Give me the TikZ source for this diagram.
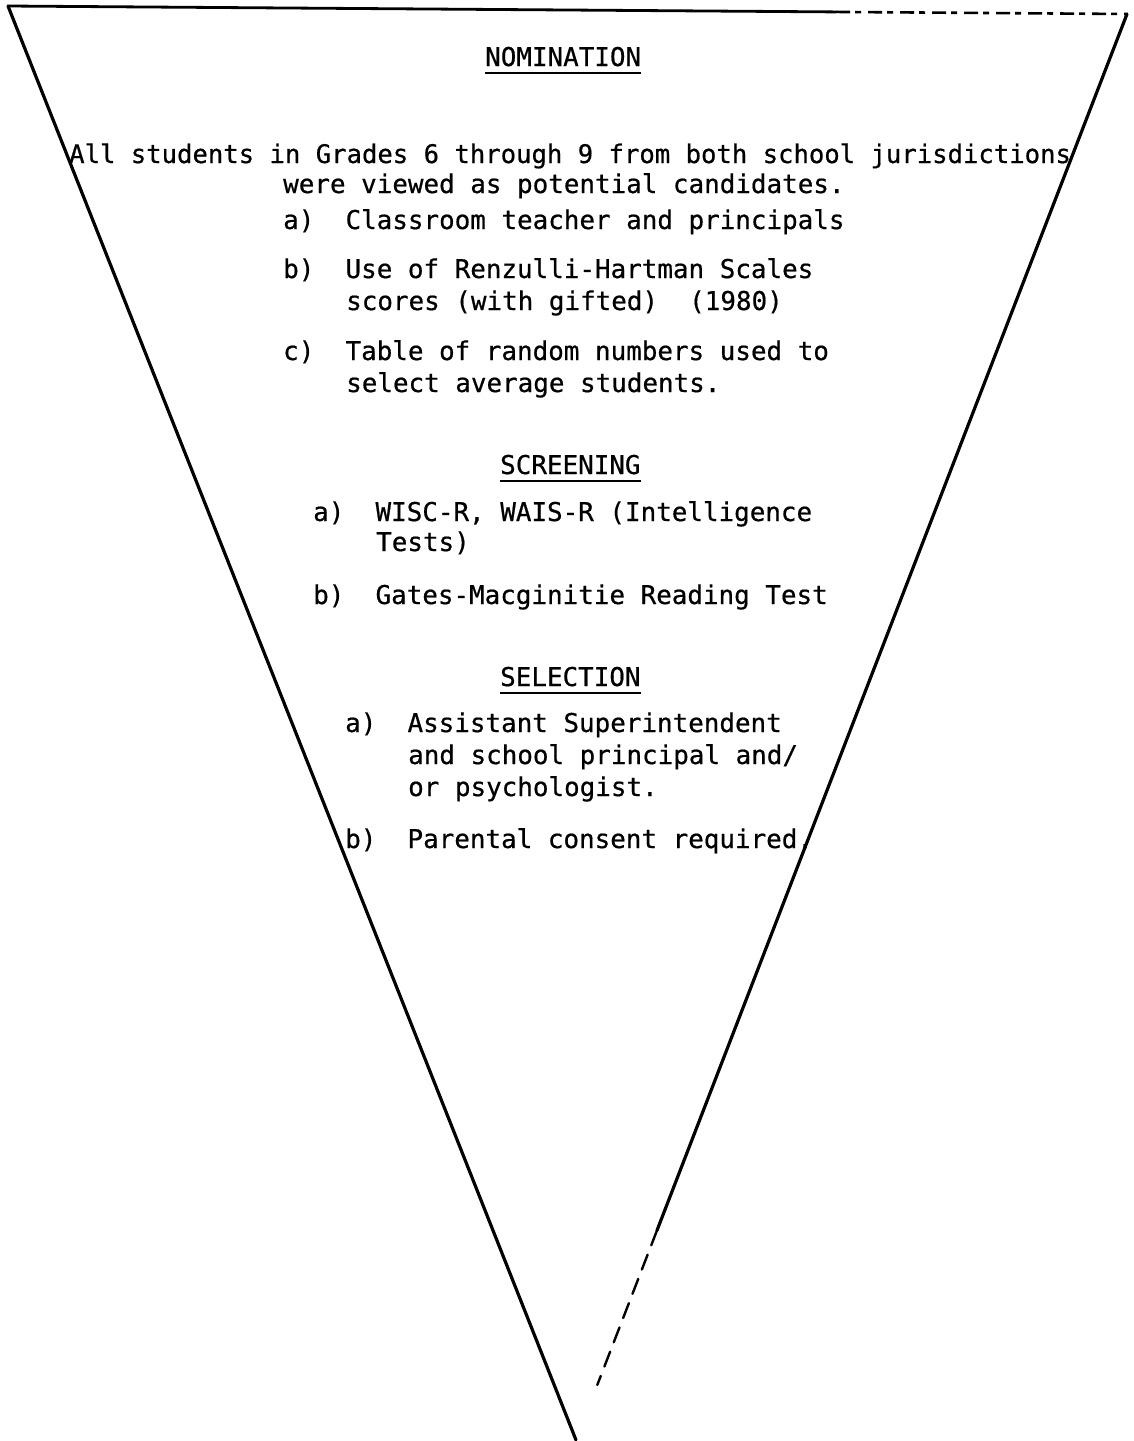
\documentclass[tikz,border=0pt]{standalone}
\usepackage{fontspec}
\setmonofont[FakeBold=0.6]{DejaVu Sans Mono}
\usetikzlibrary{calc}
\begin{document}
\begin{tikzpicture}[x=1pt,y=-1pt,
  txt/.style={anchor=base west,inner sep=0pt,font=\ttfamily\fontsize{25.9}{30}\selectfont},
  edge/.style={line width=3.2pt,line cap=round,line join=round},
  brk/.style={line width=2.6pt,dash pattern=on 14pt off 5pt on 6pt off 7pt},
  uline/.style={line width=2pt}]
\useasboundingbox (0,0) rectangle (1134,1441);
\frenchspacing
% triangle corners
\coordinate (TL) at (8,6);
\coordinate (TR) at (1127,14);
\coordinate (AP) at (576,1440);
\coordinate (TM) at ($(TL)!0.74!(TR)$);
\coordinate (RM) at ($(TR)!0.853!(AP)$);
\coordinate (RE) at ($(TR)!0.9614!(AP)$);
% top edge
\draw[edge,line width=2.8pt] (TL) -- (TM);
\draw[brk] (TM) -- (TR);
% left edge
\draw[edge] (TL) -- (AP);
% right edge
\draw[edge] (TR) -- (RM);
\draw[edge,line width=2.4pt,dash pattern=on 16pt off 10pt] (RM) -- (RE);
% texts
\node[txt] (nom) at (485,66) {NOMINATION};
\draw[uline] ([yshift=-7pt]nom.base west) -- ([yshift=-7pt]nom.base east);
\node[txt,font=\ttfamily\fontsize{25.6}{30}\selectfont] (l1) at (69,163) {All students in Grades 6 through 9 from both school jurisdictions};
\node[txt] (l2) at (283,193) {were viewed as potential candidates.};
\node[txt] (na) at (283,229) {a)~~Classroom teacher and principals};
\node[txt] (nb) at (283,278) {b)~~Use of Renzulli-Hartman Scales};
\node[txt] (nb2) at (346,310) {scores (with gifted)~~(1980)};
\node[txt] (nc) at (283,360) {c)~~Table of random numbers used to};
\node[txt] (nc2) at (346,392) {select average students.};
\node[txt] (scr) at (500,474) {SCREENING};
\draw[uline] ([yshift=-7pt]scr.base west) -- ([yshift=-7pt]scr.base east);
\node[txt] (sa) at (313,521) {a)~~WISC-R, WAIS-R (Intelligence};
\node[txt] (sa2) at (376,551) {Tests)};
\node[txt] (sb) at (313,604) {b)~~Gates-Macginitie Reading Test};
\node[txt] (sel) at (500,686) {SELECTION};
\draw[uline] ([yshift=-7pt]sel.base west) -- ([yshift=-7pt]sel.base east);
\node[txt] (ta) at (345,732) {a)~~Assistant Superintendent};
\node[txt] (ta2) at (408,764) {and school principal and/};
\node[txt] (ta3) at (408,796) {or psychologist.};
\node[txt] (tb) at (345,848) {b)~~Parental consent required.};
\end{tikzpicture}
\end{document}
